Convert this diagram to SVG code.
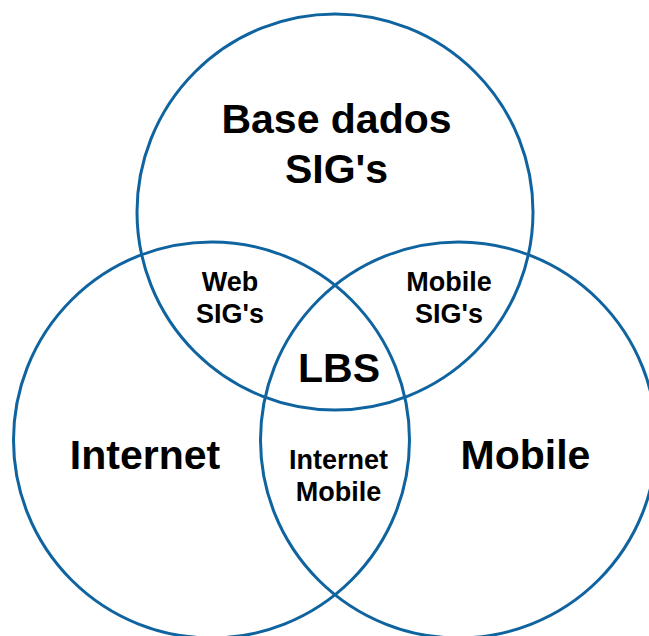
<svg xmlns="http://www.w3.org/2000/svg" width="649" height="636" viewBox="0 0 649 636">
<style>
.c{fill:none;stroke:#0f64a0;stroke-width:3}
.t{font-family:"Liberation Sans",Arial,sans-serif;font-weight:bold;fill:#000;text-anchor:middle}
.L{font-size:41px}
.S{font-size:27px}
</style>
<rect width="649" height="636" fill="#fff"/>
<g id="connectors"></g>
<g id="base"><circle class="c" cx="335" cy="212" r="198"/><text class="t L" x="336.5" y="133">Base dados</text><text class="t L" x="336.5" y="183">SIG's</text></g>
<g id="internet"><circle class="c" cx="211.5" cy="440" r="198"/><text class="t L" x="145" y="469">Internet</text></g>
<g id="mobile"><circle class="c" cx="458.5" cy="440" r="198"/><text class="t L" x="525.5" y="469">Mobile</text></g>
<g id="web"><text class="t S" x="230" y="291">Web</text><text class="t S" x="230" y="323">SIG's</text></g>
<g id="mobilesig"><text class="t S" x="449" y="291">Mobile</text><text class="t S" x="449" y="323">SIG's</text></g>
<g id="lbs"><text class="t L" x="339" y="382">LBS</text></g>
<g id="intmob"><text class="t S" x="338.5" y="469">Internet</text><text class="t S" x="338.5" y="501">Mobile</text></g>
</svg>
